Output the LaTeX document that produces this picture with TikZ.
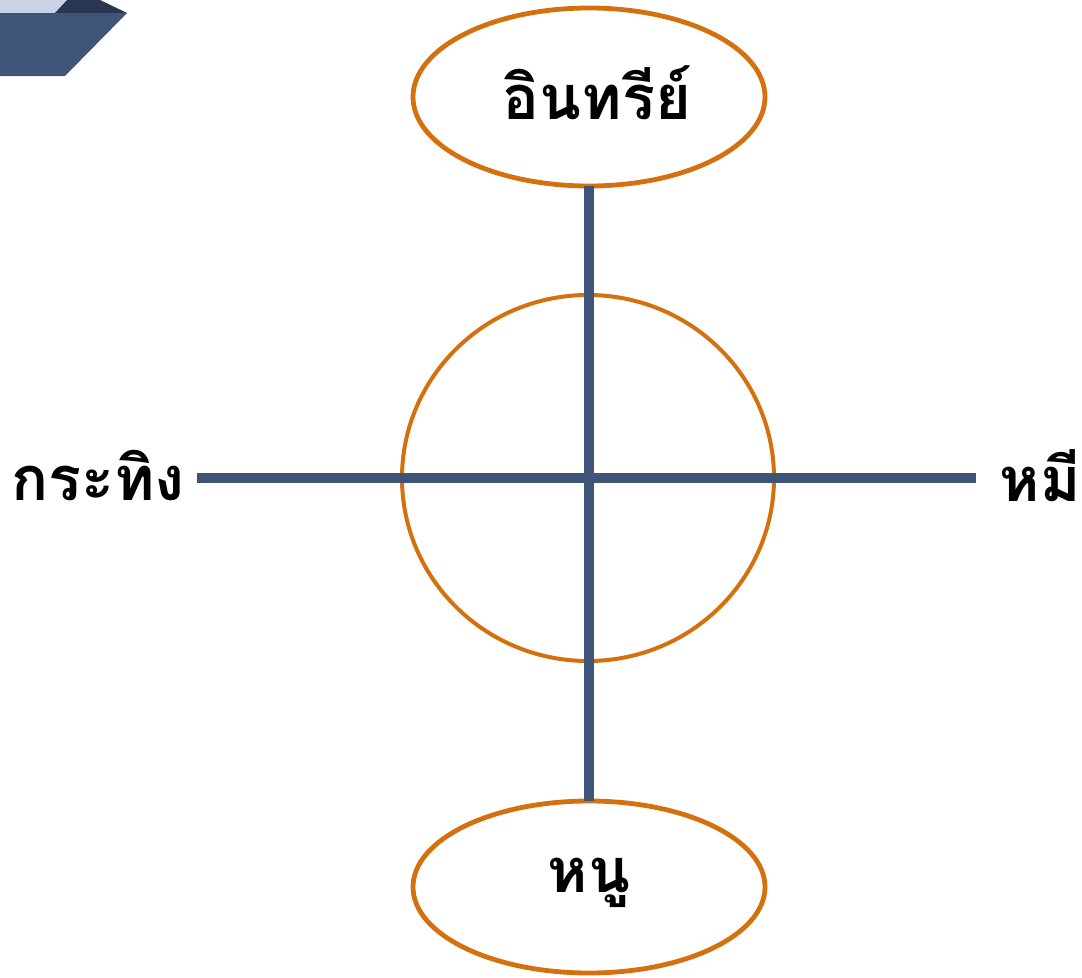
\documentclass[tikz,border=0pt]{standalone}
\usepackage{fontspec}
\usetikzlibrary{shapes.geometric}
\newfontfamily\thaifont[Script=Thai]{Loma}
\definecolor{ring}{HTML}{D4710E}
\definecolor{bar}{HTML}{3F5479}
\definecolor{navy}{HTML}{283650}
\definecolor{pale}{HTML}{C8D3E5}
\begin{document}
\begin{tikzpicture}[x=0.75pt,y=-0.75pt,
  ringline/.style={draw=ring,line width=3pt,ellipse,inner sep=0pt,outer sep=0pt},
  barline/.style={draw=bar,line width=8pt},
  lbl/.style={font=\thaifont\bfseries\fontsize{46}{54}\selectfont,inner sep=0pt}]
\useasboundingbox (0,0) rectangle (1082,978);
% corner decoration
\fill[pale] (0,0) -- (67,0) -- (55,13) -- (0,13) -- cycle;
\fill[navy] (67,0) -- (100,0) -- (127,13) -- (55,13) -- cycle;
\fill[bar] (0,13) -- (127,13) -- (65,76) -- (0,76) -- cycle;
% shapes
\node[ringline,line width=3.6pt,minimum width=264pt,minimum height=133.5pt] (top) at (589,97) {};
\node[ringline,minimum width=279pt,minimum height=274.5pt] (mid) at (588,478) {};
\node[ringline,line width=3.6pt,minimum width=264pt,minimum height=129pt] (bot) at (589,887) {};
\coordinate (left) at (197,478);
\coordinate (right) at (976,478);
\draw[barline] (top.south) -- (bot.north);
\draw[barline] (left) -- (right);
% labels
\node[lbl] (t1) at (597,93) {อินทรีย์};
\node[lbl] (t2) at (98,476) {กระทิง};
\node[lbl] (t3) at (1040,476) {หมี};
\node[lbl] (t4) at (589,883) {หนู};
\end{tikzpicture}
\end{document}
